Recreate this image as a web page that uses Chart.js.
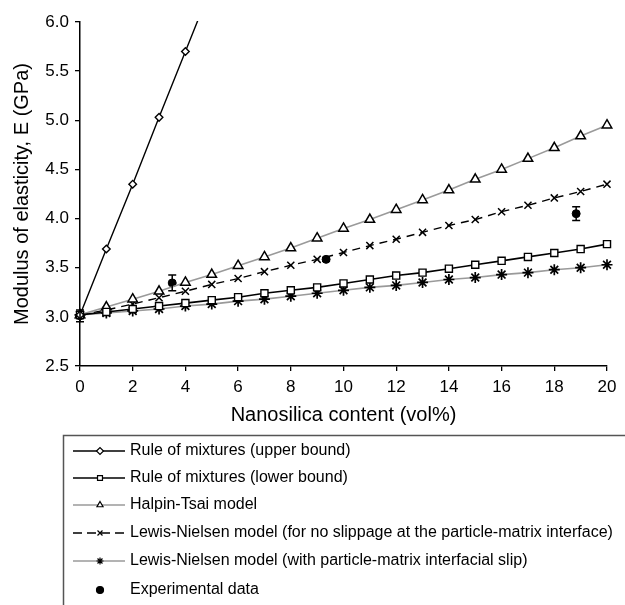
<!DOCTYPE html>
<html>
<head>
<meta charset="utf-8">
<script src="https://cdn.jsdelivr.net/npm/chart.js@4.4.1/dist/chart.umd.min.js"></script>
<style>
  html, body { margin: 0; padding: 0; background: #fff; }
  #wrap { width: 625px; height: 605px; position: relative; }
</style>
</head>
<body>
<div id="wrap"><canvas id="c" width="625" height="605"></canvas></div>
<script>
// ---- data ----
const volContent = [0,1,2,3,4,5,6,7,8,9,10,11,12,13,14,15,16,17,18,19,20];
const upperBoundX = [0,1,2,3,4,5];
const upperBound = [3.02,3.69,4.35,5.03,5.70,6.37];
const lowerBound = [3.02,3.05,3.08,3.11,3.14,3.17,3.20,3.24,3.27,3.30,3.34,3.38,3.42,3.45,3.49,3.53,3.57,3.61,3.65,3.69,3.74];
const halpinTsai = [3.02,3.10,3.18,3.26,3.35,3.43,3.52,3.61,3.70,3.80,3.90,3.99,4.09,4.19,4.29,4.40,4.50,4.61,4.72,4.84,4.95];
const lewisNoSlip = [3.02,3.07,3.13,3.195,3.26,3.33,3.39,3.46,3.525,3.585,3.655,3.725,3.79,3.86,3.93,3.99,4.07,4.135,4.21,4.275,4.35];
const lewisSlip = [3.02,3.04,3.06,3.08,3.11,3.13,3.16,3.18,3.21,3.24,3.27,3.30,3.32,3.35,3.38,3.40,3.43,3.45,3.48,3.50,3.53];
const expX = [0,3.5,9.34,18.83];
const expY = [3.01,3.345,3.585,4.05];
const expErr = [0.06,0.08,0.02,0.07];
const seriesNames = [
  'Rule of mixtures (upper bound)',
  'Rule of mixtures (lower bound)',
  'Halpin-Tsai model',
  'Lewis-Nielsen model (for no slippage at the particle-matrix interface)',
  'Lewis-Nielsen model (with particle-matrix interfacial slip)',
  'Experimental data'
];
const xTitle = 'Nanosilica content (vol%)';
const yTitle = 'Modulus of elasticity, E (GPa)';

const pts = (xs, ys) => ys.map((y, i) => ({x: xs[i], y}));
const FONT = "'Liberation Sans', Arial, Helvetica, sans-serif";
const GRAY = '#9a9a9a';
const OPEN_CLIP = {left: 12, right: 12, top: 12, bottom: 12};

const datasets = [
  {label: seriesNames[0], data: pts(upperBoundX, upperBound), showLine: true, borderColor: '#000', borderWidth: 1.4,
   clip: {left: 12, right: 12, top: 1, bottom: 12},
   pointStyle: 'rectRot', pointRadius: 3.8, pointBackgroundColor: '#fff', pointBorderColor: '#000', pointBorderWidth: 1.4},
  {label: seriesNames[1], data: pts(volContent, lowerBound), showLine: true, borderColor: '#000', borderWidth: 1.6,
   pointStyle: 'rect', pointRadius: 5, pointBackgroundColor: '#fff', pointBorderColor: '#000', pointBorderWidth: 1.4},
  {label: seriesNames[2], data: pts(volContent, halpinTsai), showLine: true, borderColor: GRAY, borderWidth: 1.6,
   pointStyle: 'triangle', pointRadius: 5.5, pointBackgroundColor: '#fff', pointBorderColor: '#000', pointBorderWidth: 1.5},
  {label: seriesNames[3], data: pts(volContent, lewisNoSlip), showLine: true, borderColor: '#000', borderWidth: 1.4, borderDash: [8, 6],
   pointStyle: 'crossRot', pointRadius: 5, pointBorderColor: '#000', pointBorderWidth: 1.5},
  {label: seriesNames[4], data: pts(volContent, lewisSlip), showLine: true, borderColor: GRAY, borderWidth: 1.6,
   pointStyle: 'star', pointRadius: 5.5, pointBorderColor: '#000', pointBorderWidth: 1.7},
  {label: seriesNames[5], data: pts(expX, expY), showLine: false, errors: expErr,
   pointStyle: 'circle', pointRadius: 4, pointBackgroundColor: '#000', pointBorderColor: '#000', pointBorderWidth: 1}
];
datasets.forEach(d => {
  d.tension = 0; d.fill = false; d.pointHoverRadius = d.pointRadius;
  if (!d.clip) d.clip = OPEN_CLIP;
});

const errorBars = {
  id: 'errorBars',
  afterDatasetsDraw(chart) {
    const ctx = chart.ctx;
    const ys = chart.scales.y;
    chart.data.datasets.forEach((ds, di) => {
      if (!ds.errors) return;
      const meta = chart.getDatasetMeta(di);
      ctx.save();
      ctx.strokeStyle = '#000';
      ctx.lineWidth = 1.5;
      meta.data.forEach((el, i) => {
        const e = ds.errors[i];
        const v = ds.data[i].y;
        const x = el.x;
        const yTop = ys.getPixelForValue(v + e);
        const yBot = ys.getPixelForValue(v - e);
        ctx.beginPath();
        ctx.moveTo(x, yTop); ctx.lineTo(x, yBot);
        ctx.moveTo(x - 4, yTop); ctx.lineTo(x + 4, yTop);
        ctx.moveTo(x - 4, yBot); ctx.lineTo(x + 4, yBot);
        ctx.stroke();
      });
      ctx.restore();
    });
  }
};

function drawMarker(ctx, ds, x, y, r) {
  Chart.helpers.drawPoint(ctx, {
    pointStyle: ds.pointStyle, rotation: 0, radius: r, borderWidth: ds.pointBorderWidth
  }, x, y);
}

const annotations = {
  id: 'annotations',
  afterDraw(chart) {
    const ctx = chart.ctx;
    const area = chart.chartArea;
    ctx.save();
    ctx.fillStyle = '#000';
    ctx.font = '20px ' + FONT;
    ctx.textAlign = 'center';
    ctx.textBaseline = 'middle';
    ctx.fillText(xTitle, (area.left + area.right) / 2, 415);
    ctx.save();
    ctx.translate(22, (area.top + area.bottom) / 2);
    ctx.rotate(-Math.PI / 2);
    ctx.fillText(yTitle, 0, 0);
    ctx.restore();

    // legend box
    ctx.strokeStyle = '#555';
    ctx.lineWidth = 1.5;
    ctx.beginPath();
    ctx.moveTo(63.5, 640);
    ctx.lineTo(63.5, 435.5);
    ctx.lineTo(640, 435.5);
    ctx.stroke();

    const rows = [451, 478, 505, 533, 561, 590];
    ctx.font = '16px ' + FONT;
    ctx.textAlign = 'left';
    chart.data.datasets.forEach((ds, i) => {
      const y = rows[i];
      ctx.save();
      if (ds.showLine !== false) {
        ctx.strokeStyle = ds.borderColor;
        ctx.lineWidth = ds.borderWidth;
        ctx.setLineDash(ds.borderDash ? [9, 5] : []);
        ctx.beginPath();
        ctx.moveTo(73, y); ctx.lineTo(125, y);
        ctx.stroke();
        ctx.setLineDash([]);
      }
      ctx.fillStyle = ds.pointBackgroundColor || '#fff';
      ctx.strokeStyle = ds.pointBorderColor;
      ctx.lineWidth = 1.2;
      drawMarker(ctx, ds, 100, y, 3.5);
      ctx.restore();
      ctx.fillStyle = '#000';
      ctx.fillText(ds.label, 130, y);
    });
    ctx.restore();
  }
};

Chart.defaults.font.family = FONT;
Chart.defaults.font.size = 16;
Chart.defaults.color = '#000';

new Chart(document.getElementById('c'), {
  type: 'scatter',
  data: { datasets },
  options: {
    responsive: false,
    animation: false,
    events: [],
    layout: { padding: { left: 0, right: 18, top: 22, bottom: 0 } },
    plugins: { legend: { display: false }, tooltip: { enabled: false } },
    scales: {
      x: {
        type: 'linear', min: 0, max: 20,
        ticks: { stepSize: 2, padding: 6, color: '#000', font: { size: 17 } },
        grid: { display: true, drawOnChartArea: false, drawTicks: true, tickLength: 5, color: '#000', lineWidth: 1.3 },
        border: { color: '#000', width: 1.5 },
        afterFit(s) { s.height = 239; }
      },
      y: {
        type: 'linear', min: 2.5, max: 6.0,
        ticks: { stepSize: 0.5, padding: 6, color: '#000', font: { size: 17 }, callback: v => v.toFixed(1) },
        grid: { display: true, drawOnChartArea: false, drawTicks: true, tickLength: 5, color: '#000', lineWidth: 1.3 },
        border: { color: '#000', width: 1.5 },
        afterFit(s) { s.width = 80; }
      }
    }
  },
  plugins: [errorBars, annotations]
});
</script>
</body>
</html>
